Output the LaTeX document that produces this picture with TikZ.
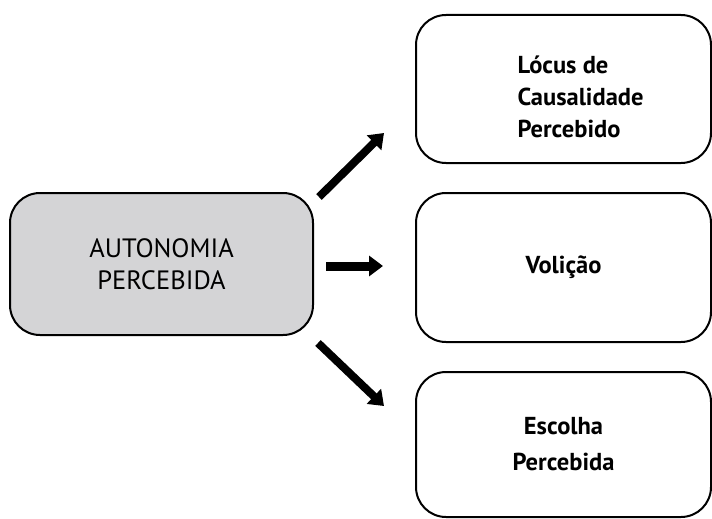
\documentclass[tikz,border=0pt]{standalone}
\usepackage{fontspec}
\setmainfont{PT Sans}
\usetikzlibrary{arrows.meta}
\definecolor{boxgray}{RGB}{212,212,214}

\begin{document}
\begin{tikzpicture}[x=1pt,y=1pt]
    \tikzstyle{rbox} = [draw,line width=2pt,rounded corners=30pt,inner sep=0pt,minimum width=295pt]
    \tikzstyle{rtext} = [font=\fontsize{24.5}{32}\selectfont\bfseries]
    \tikzstyle{fat} = [line width=8pt,-{Triangle[length=14pt,width=20pt]}]

    \useasboundingbox (0,0) rectangle (712,-519);

    % boxes
    \node[rbox,fill=boxgray,minimum width=303pt,minimum height=142pt,align=center,
          font=\fontsize{26.5}{32}\selectfont] (auto) at (161.5,-264) {AUTONOMIA\\PERCEBIDA};
    \node[rbox,minimum height=148pt] (locus) at (563.5,-89) {};
    \node[rtext,align=left,anchor=west] (locustext) at ([shift={(99,-8)}]locus.west) {L\'ocus de\\Causalidade\\Percebido};
    \node[rbox,rtext,minimum height=149pt] (volicao) at (563.5,-267.5) {Voli\c{c}\~ao};
    \node[rbox,rtext,minimum height=145pt,align=center,
          font=\fontsize{24.5}{36}\selectfont\bfseries] (escolha) at (563.5,-444.5) {Escolha\\Percebida};

    % arrows
    \draw[fat] ([shift={(5,-5)}]auto.north east) -- ([shift={(-31,31)}]locus.south west);
    \draw[fat,line width=9pt] ([shift={(12,-2)}]auto.east) -- ([shift={(-32,1.5)}]volicao.west);
    \draw[fat] ([shift={(4,-7)}]auto.south east) -- ([shift={(-31,-35)}]escolha.north west);
\end{tikzpicture}
\end{document}
